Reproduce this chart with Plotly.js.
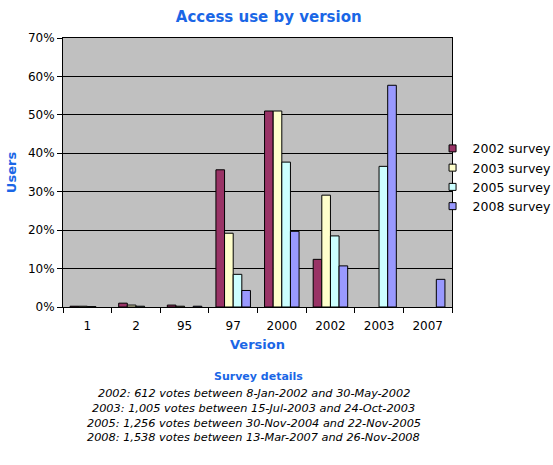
<!DOCTYPE html>
<html>
<head>
<meta charset="utf-8">
<script src="https://cdn.plot.ly/plotly-3.0.1.min.js"></script>
<style>html,body{margin:0;padding:0;background:#fff;}#chart{width:553px;height:465px;}</style>
</head>
<body>
<div id="chart"></div>
<script>
var versions = ["1", "2", "95", "97", "2000", "2002", "2003", "2007"];
var surveyNames = ["2002 survey", "2003 survey", "2005 survey", "2008 survey"];
var survey2002 = [0.002, 0.010, 0.005, 0.357, 0.510, 0.124, null, null];
var survey2003 = [0.002, 0.005, 0.002, 0.192, 0.510, 0.291, null, null];
var survey2005 = [0.001, 0.002, null, 0.085, 0.377, 0.185, 0.366, null];
var survey2008 = [null, null, 0.002, 0.043, 0.197, 0.107, 0.577, 0.072];
var surveyNotes = [
  "2002: 612 votes between 8-Jan-2002 and 30-May-2002",
  "2003: 1,005 votes between 15-Jul-2003 and 24-Oct-2003",
  "2005: 1,256 votes between 30-Nov-2004 and 22-Nov-2005",
  "2008: 1,538 votes between 13-Mar-2007 and 26-Nov-2008"
];
var colors = ["#993366", "#ffffcc", "#ccffff", "#9999ff"];
var series = [survey2002, survey2003, survey2005, survey2008];

var FONT = "DejaVu Sans, Verdana, sans-serif";
var BLUE = "#1a66e6";

var traces = [];
series.forEach(function (vals, i) {
  traces.push({
    type: "bar",
    name: surveyNames[i],
    legendgroup: surveyNames[i],
    showlegend: false,
    x: versions,
    y: vals,
    marker: { color: colors[i], line: { color: "#000", width: 1 } }
  });
});
// legend-only entries with small square swatches
series.forEach(function (vals, i) {
  traces.push({
    type: "scatter",
    mode: "markers",
    name: surveyNames[i],
    legendgroup: surveyNames[i],
    x: [null], y: [null],
    marker: { symbol: "square", size: 7, color: colors[i], line: { color: "#000", width: 1 } }
  });
});

var annotations = [{
  text: "<b>Survey details</b>",
  xref: "paper", yref: "paper",
  x: 0.502, y: -0.2597, xanchor: "center", yanchor: "middle",
  showarrow: false,
  font: { family: FONT, size: 11, color: BLUE }
}];
surveyNotes.forEach(function (t, i) {
  annotations.push({
    text: "<i>" + t + "</i>",
    xref: "paper", yref: "paper",
    x: 0.491, y: (307 - (394 + i * 14.7)) / 269.5,
    xanchor: "center", yanchor: "middle",
    showarrow: false,
    font: { family: FONT, size: 11.3, color: "#000" }
  });
});

var layout = {
  width: 553, height: 465,
  margin: { l: 63, r: 101, t: 38, b: 158, pad: 0, autoexpand: false },
  paper_bgcolor: "#fff",
  plot_bgcolor: "#c0c0c0",
  font: { family: FONT, size: 12, color: "#000" },
  title: {
    text: "<b>Access use by version</b>",
    font: { family: FONT, size: 15, color: BLUE },
    x: 0.486, xref: "container", xanchor: "center",
    y: 0.963, yref: "container", yanchor: "middle"
  },
  barmode: "group",
  bargap: 0.29,
  bargroupgap: 0,
  showlegend: true,
  legend: {
    x: 0.95, y: 0.644, xanchor: "left", yanchor: "top",
    bgcolor: "rgba(0,0,0,0)",
    font: { family: FONT, size: 12.5, color: "#000" },
    tracegroupgap: 0
  },
  xaxis: {
    type: "category",
    title: { text: "<b>Version</b>", font: { family: FONT, size: 13, color: BLUE }, standoff: 7 },
    ticks: "outside", tickson: "boundaries", ticklen: 5, tickcolor: "#000",
    ticklabelstandoff: 8,
    showline: true, linecolor: "#000", linewidth: 1, mirror: true,
    showgrid: false,
    tickfont: { family: FONT, size: 12, color: "#000" }
  },
  yaxis: {
    range: [0, 0.7], dtick: 0.1, tickformat: ".0%",
    title: { text: "<b>Users</b>", font: { family: FONT, size: 13, color: BLUE }, standoff: 8 },
    ticks: "outside", ticklen: 5, tickcolor: "#000",
    showline: true, linecolor: "#000", linewidth: 1, mirror: true,
    showgrid: true, gridcolor: "#000", gridwidth: 1,
    zeroline: false,
    tickfont: { family: FONT, size: 12, color: "#000" }
  },
  annotations: annotations
};

Plotly.newPlot("chart", traces, layout, { displayModeBar: false, staticPlot: true });
</script>
</body>
</html>
